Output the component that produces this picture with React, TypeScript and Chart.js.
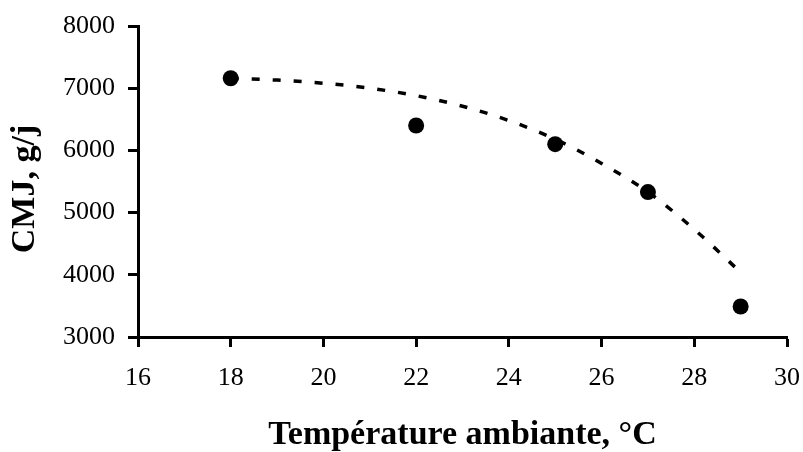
import React, { useEffect, useRef } from "react";
import { Chart, registerables } from "chart.js";

Chart.register(...registerables);

const temperatures = [18, 22, 25, 27, 29];
const cmjValues = [7160, 6400, 6100, 5330, 3490];

const trendX = [18, 19, 20, 21, 22, 23, 24, 25, 26, 27, 28, 29];
const trendY = [7160, 7130, 7080, 7000, 6880, 6710, 6480, 6180, 5790, 5330, 4730, 4040];

const xTickStep = 2;
const yTickStep = 1000;

const xTitle = "Température ambiante, °C";
const yTitle = "CMJ, g/j";

const serif = "'Liberation Serif', 'Times New Roman', serif";

const yTitlePlugin = {
  id: "yTitlePlugin",
  afterDraw(chart: any) {
    const ctx = chart.ctx;
    ctx.save();
    ctx.fillStyle = "#000";
    ctx.font = `bold 34px ${serif}`;
    ctx.textAlign = "center";
    ctx.textBaseline = "middle";
    ctx.translate(25, 189);
    ctx.rotate(-Math.PI / 2);
    ctx.fillText(yTitle, 0, 0);
    ctx.restore();
  },
};

export default function App() {
  const ref = useRef<HTMLCanvasElement | null>(null);

  useEffect(() => {
    document.body.style.margin = "0";
    const canvas = ref.current;
    if (!canvas) return;
    const chart = new Chart(canvas, {
      type: "scatter",
      data: {
        datasets: [
          {
            label: "Tendance",
            type: "line",
            data: trendX.map((x, i) => ({ x, y: trendY[i] })),
            borderColor: "#000",
            borderWidth: 3.5,
            borderDash: [8, 13],
            borderCapStyle: "butt",
            pointRadius: 0,
            fill: false,
            tension: 0.4,
            cubicInterpolationMode: "monotone",
            order: 1,
          } as any,
          {
            label: "CMJ",
            data: temperatures.map((x, i) => ({ x, y: cmjValues[i] })),
            backgroundColor: "#000",
            borderColor: "#000",
            borderWidth: 0,
            pointRadius: 8,
            pointHoverRadius: 8,
            order: 2,
          },
        ],
      },
      options: {
        responsive: false,
        animation: false,
        devicePixelRatio: 1,
        layout: { padding: { top: 26, right: 0, left: 0, bottom: 0 } },
        plugins: {
          legend: { display: false },
          tooltip: { enabled: false },
        },
        scales: {
          x: {
            type: "linear",
            min: 16,
            max: 30,
            ticks: {
              stepSize: xTickStep,
              color: "#000",
              padding: 16,
              font: { family: serif, size: 26 },
              callback: (v: any) => String(v),
            },
            grid: {
              display: true,
              drawOnChartArea: false,
              drawTicks: true,
              tickLength: 10,
              tickWidth: 3,
              tickColor: "#000",
            },
            border: { display: true, color: "#000", width: 3 },
            title: {
              display: true,
              text: xTitle,
              color: "#000",
              font: { family: serif, size: 34, weight: "bold", lineHeight: 1.0 },
              padding: { top: 0, bottom: 0 },
            },
            afterFit: (scale: any) => {
              scale.height = 115;
              scale.paddingLeft = 0;
              scale.paddingRight = 16;
            },
          },
          y: {
            type: "linear",
            min: 3000,
            max: 8000,
            ticks: {
              stepSize: yTickStep,
              color: "#000",
              padding: 13,
              font: { family: serif, size: 26 },
              callback: (v: any) => String(v),
            },
            grid: {
              display: true,
              drawOnChartArea: false,
              drawTicks: true,
              tickLength: 10,
              tickWidth: 3,
              tickColor: "#000",
            },
            border: { display: true, color: "#000", width: 3 },
            afterFit: (scale: any) => {
              scale.width = 138;
              scale.paddingTop = 0;
              scale.paddingBottom = 0;
            },
          },
        },
      },
      plugins: [yTitlePlugin],
    });
    return () => chart.destroy();
  }, []);

  return <canvas ref={ref} width={803} height={452} style={{ display: "block" }} />;
}
